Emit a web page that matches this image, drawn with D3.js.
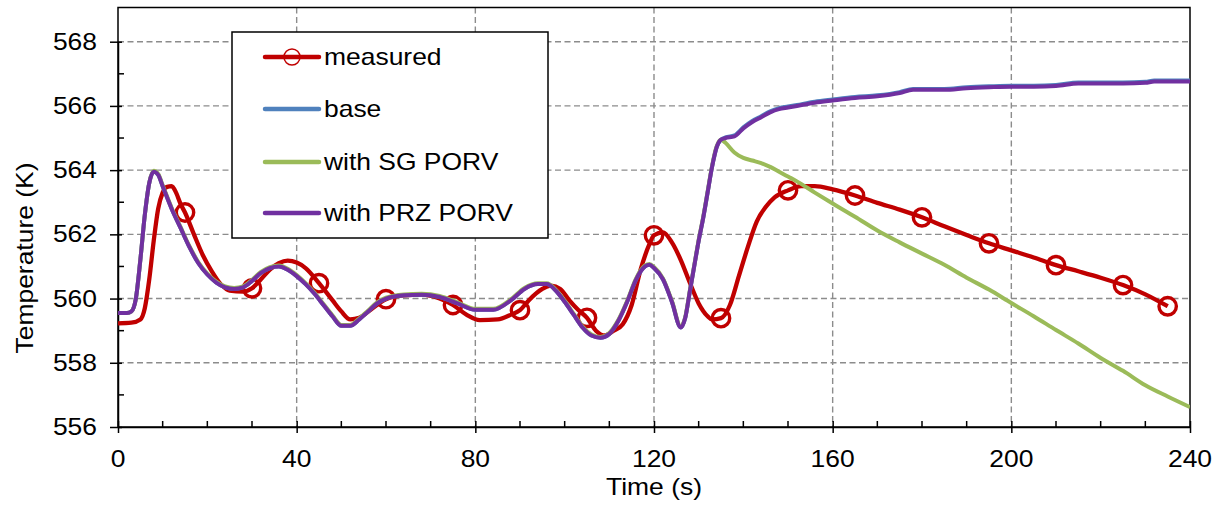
<!DOCTYPE html>
<html>
<head>
<meta charset="utf-8">
<script src="https://cdn.jsdelivr.net/npm/d3@7"></script>
<style>
  html, body { margin: 0; padding: 0; background: #fff; }
  svg { display: block; font-family: "Liberation Sans", Arial, sans-serif; }
</style>
</head>
<body>
<svg id="chart" width="1224" height="508"></svg>
<script>
// ---------- DATA ----------
const seriesNames = ["measured", "base", "with SG PORV", "with PRZ PORV"];
const seriesColors = ["#C00000", "#4F81BD", "#9BBB59", "#7030A0"];

const xTicks = [0, 40, 80, 120, 160, 200, 240];
const yTicks = [556, 558, 560, 562, 564, 566, 568];

// measured
const measTime = [0,3,5,6,7,8,9,10,11,12,13,14,15,17,19,21,23,25,28,30,32,34,36,38,40,42,45,48,50,52,54,57,60,64,68,72,75,78,81,85,88,90,92,95,97,99,101,103,105,107,109,111,113,115,117,119,120,122,124,126,128,130,132,133,135,137,139,141,143,145,147,150,153,156,160,165,170,175,180,185,190,195,200,205,210,215,220,225,230,235];
const measTemp = [559.23,559.25,559.35,559.7,560.6,561.8,562.8,563.3,563.48,563.5,563.3,562.95,562.68,562.0,561.35,560.85,560.45,560.25,560.22,560.32,560.6,560.9,561.1,561.18,561.12,560.95,560.48,559.95,559.6,559.35,559.4,559.7,559.98,560.1,560.12,560.0,559.8,559.5,559.33,559.35,559.5,559.64,559.95,560.3,560.4,560.3,559.95,559.65,559.4,559.0,558.85,559.0,559.2,559.8,560.9,561.7,561.97,562.06,561.75,561.2,560.5,559.85,559.45,559.35,559.39,559.8,560.7,561.6,562.4,562.85,563.15,563.37,563.5,563.5,563.4,563.21,562.98,562.77,562.53,562.25,561.98,561.72,561.5,561.28,561.04,560.85,560.65,560.42,560.13,559.76];
const markerTime = [15,30,45,60,75,90,105,120,135,150,165,180,195,210,225,235];

// simulations (shared time base)
const simTime = [0,2,3,4,5,6,7,8,9,10,12,14,16,18,20,22,24,26,28,30,32,34,36,38,40,42,44,46,48,50,52,54,56,58,60,64,68,72,76,80,84,88,91,94,96,98,100,102,104,106,108,110,112,114,116,118,119,120,122,124,126,127,128,129,130,131,132,133,134,135,136,138,140,142,144,146,148,150,152,156,160,165,170,175,178,185,190,195,200,205,210,215,220,225,230,232,236,240];

const przTemp = [559.55,559.55,559.6,560.0,561.2,562.6,563.6,563.95,563.85,563.5,562.8,562.2,561.6,561.1,560.75,560.5,560.35,560.3,560.35,560.55,560.8,560.95,561.0,560.9,560.7,560.45,560.15,559.8,559.45,559.15,559.15,559.35,559.6,559.85,560.0,560.1,560.12,560.05,559.85,559.65,559.65,559.95,560.3,560.45,560.45,560.25,559.9,559.5,559.1,558.85,558.78,558.9,559.3,559.9,560.6,561.0,561.05,560.95,560.6,559.9,559.1,559.4,560.2,561.0,561.8,562.5,563.3,564.1,564.7,564.95,565.0,565.05,565.3,565.5,565.65,565.8,565.9,565.95,566.0,566.1,566.17,566.25,566.3,566.4,566.5,566.5,566.55,566.58,566.6,566.6,566.62,566.7,566.7,566.7,566.72,566.76,566.76,566.76];

const baseTemp = [559.55,559.55,559.6,560.0,561.2,562.6,563.6,563.95,563.85,563.5,562.8,562.2,561.6,561.1,560.75,560.5,560.35,560.3,560.35,560.55,560.8,560.95,561.0,560.9,560.7,560.45,560.15,559.8,559.45,559.15,559.15,559.35,559.6,559.85,560.0,560.1,560.12,560.05,559.85,559.65,559.65,559.95,560.3,560.45,560.45,560.25,559.9,559.5,559.1,558.85,558.78,558.9,559.3,559.9,560.6,561.0,561.05,560.95,560.6,559.9,559.1,559.4,560.2,561.0,561.8,562.5,563.3,564.1,564.7,564.95,565.02,565.08,565.33,565.53,565.68,565.83,565.93,565.98,566.03,566.13,566.2,566.28,566.33,566.43,566.53,566.53,566.58,566.61,566.63,566.63,566.65,566.73,566.73,566.73,566.75,566.79,566.79,566.79];

const sgTime = [0,2,3,4,5,6,7,8,9,10,12,14,16,18,20,22,24,26,28,30,32,34,36,38,40,42,44,46,48,50,52,54,56,58,60,64,68,72,76,80,84,88,91,94,96,98,100,102,104,106,108,110,112,114,116,118,119,120,122,124,126,127,128,129,130,131,132,133,134,135,136,138,140,142,144,146,148,150,152,156,160,165,170,175,180,185,190,195,200,205,210,215,220,225,230,235,240];
const sgTemp = [559.55,559.55,559.6,560.0,561.2,562.6,563.6,563.98,563.88,563.53,562.83,562.23,561.63,561.13,560.78,560.53,560.38,560.33,560.38,560.58,560.83,560.98,561.03,560.93,560.73,560.48,560.18,559.83,559.48,559.18,559.18,559.38,559.63,559.88,560.03,560.13,560.15,560.08,559.88,559.68,559.68,559.98,560.33,560.48,560.48,560.28,559.93,559.53,559.13,558.88,558.8,558.93,559.33,559.93,560.63,561.03,561.08,560.98,560.63,559.93,559.13,559.43,560.23,561.03,561.83,562.53,563.33,564.13,564.73,564.95,564.85,564.55,564.38,564.3,564.22,564.1,563.95,563.8,563.65,563.3,562.96,562.55,562.12,561.75,561.4,561.05,560.65,560.28,559.86,559.45,559.02,558.6,558.15,557.75,557.3,556.95,556.62];

// ---------- LAYOUT ----------
const svg = d3.select("#chart");
const L = 118, R = 1190, T = 7.5, B = 427;
const x = d3.scaleLinear().domain([0, 240]).range([L, R]);
const y = d3.scaleLinear().domain([556, 568]).range([B, 41.7]);
const FS = 23, SX = 1.15;

// helper: stretched text
function label(parent, tx, ty, str, anchor, rot) {
  const g = parent.append("g").attr("transform", `translate(${tx},${ty})` + (rot ? ` rotate(${rot})` : "") + ` scale(${SX},1)`);
  return g.append("text").attr("x", 0).attr("y", 0).attr("text-anchor", anchor)
    .attr("font-size", FS).attr("fill", "#000").text(str);
}

// grid
const grid = svg.append("g");
grid.selectAll("line.hg").data(yTicks.filter(v => v > 556)).enter().append("line")
  .attr("x1", L).attr("x2", R).attr("y1", d => y(d)).attr("y2", d => y(d))
  .attr("stroke", "#8c8c8c").attr("stroke-width", 1.4).attr("stroke-dasharray", "6,3.5");
grid.selectAll("line.vg").data(xTicks.filter(v => v > 0 && v < 240)).enter().append("line")
  .attr("x1", d => x(d)).attr("x2", d => x(d)).attr("y1", T).attr("y2", B)
  .attr("stroke", "#8c8c8c").attr("stroke-width", 1.4).attr("stroke-dasharray", "6,3.5");

// frame
svg.append("rect").attr("x", L).attr("y", T).attr("width", R - L).attr("height", B - T)
  .attr("fill", "none").attr("stroke", "#000").attr("stroke-width", 1.5);

// axes (ticks from d3 axes; labels drawn stretched)
const xAxis = svg.append("g").attr("transform", `translate(0,${B})`)
  .call(d3.axisBottom(x).tickValues(xTicks).tickSize(6).tickSizeOuter(0).tickFormat(""));
const yAxis = svg.append("g").attr("transform", `translate(${L},0)`)
  .call(d3.axisLeft(y).tickValues(yTicks).tickSize(8).tickSizeOuter(0).tickFormat(""));
[xAxis, yAxis].forEach(a => {
  a.select(".domain").attr("stroke", "#000").attr("stroke-width", 1.5);
  a.selectAll(".tick line").attr("stroke", "#000").attr("stroke-width", 1.5);
});
xAxis.selectAll(".tick").append("line").attr("y1", 0).attr("y2", -6).attr("stroke", "#000").attr("stroke-width", 1.5);
yAxis.selectAll(".tick").append("line").attr("x1", 0).attr("x2", 4).attr("stroke", "#000").attr("stroke-width", 1.5);
const xMinor = d3.range(10, 240, 10).filter(v => v % 40 !== 0);
svg.append("g").selectAll("line").data(xMinor).enter().append("line")
  .attr("x1", d => x(d)).attr("x2", d => x(d)).attr("y1", B).attr("y2", B - 6)
  .attr("stroke", "#000").attr("stroke-width", 1.5);
const yMinor = [557, 559, 561, 563, 565, 567];
svg.append("g").selectAll("line").data(yMinor).enter().append("line")
  .attr("x1", L).attr("x2", L + 6).attr("y1", d => y(d)).attr("y2", d => y(d))
  .attr("stroke", "#000").attr("stroke-width", 1.5);

const tl = svg.append("g");
xTicks.forEach(v => label(tl, x(v), 467, d3.format("d")(v), "middle"));
yTicks.forEach(v => label(tl, 97, y(v) + 8, d3.format("d")(v), "end"));

// axis titles
label(svg, (L + R) / 2, 495, "Time (s)", "middle");
label(svg, 33, 258, "Temperature (K)", "middle", -90);

// lines
svg.append("clipPath").attr("id", "pc").append("rect")
  .attr("x", L).attr("y", T).attr("width", R - L).attr("height", B - T);
const plot = svg.append("g").attr("clip-path", "url(#pc)");
const line = d3.line().curve(d3.curveMonotoneX);

const measPts = measTime.map((t, i) => [x(t), y(measTemp[i])]);
plot.append("path").attr("d", line(measPts)).attr("fill", "none")
  .attr("stroke", seriesColors[0]).attr("stroke-width", 4.3).attr("stroke-linejoin", "round");
plot.selectAll("circle.m").data(markerTime).enter().append("circle")
  .attr("cx", d => x(d)).attr("cy", d => y(measTemp[measTime.indexOf(d)]))
  .attr("r", 8.7).attr("fill", "none").attr("stroke", seriesColors[0]).attr("stroke-width", 3.4);

const sims = [
  [simTime, baseTemp, seriesColors[1]],
  [sgTime, sgTemp, seriesColors[2]],
  [simTime, przTemp, seriesColors[3]]
];
sims.forEach(([tt, vv, c]) => {
  plot.append("path").attr("d", line(tt.map((t, i) => [x(t), y(vv[i])])))
    .attr("fill", "none").attr("stroke", c).attr("stroke-width", 4).attr("stroke-linejoin", "round");
});

// legend
const lg = svg.append("g");
lg.append("rect").attr("x", 232).attr("y", 32).attr("width", 316).attr("height", 206)
  .attr("fill", "#fff").attr("stroke", "#000").attr("stroke-width", 1.5);
const rowY = [57, 109, 162, 213];
seriesNames.forEach((n, i) => {
  lg.append("line").attr("x1", 265).attr("x2", 319).attr("y1", rowY[i]).attr("y2", rowY[i])
    .attr("stroke", seriesColors[i]).attr("stroke-width", 4.5).attr("stroke-linecap", "round");
  if (i === 0) {
    lg.append("circle").attr("cx", 292).attr("cy", rowY[i]).attr("r", 8)
      .attr("fill", "none").attr("stroke", seriesColors[0]).attr("stroke-width", 1.5);
  }
  label(lg, 324, rowY[i] + 8, n, "start");
});
</script>
</body>
</html>
